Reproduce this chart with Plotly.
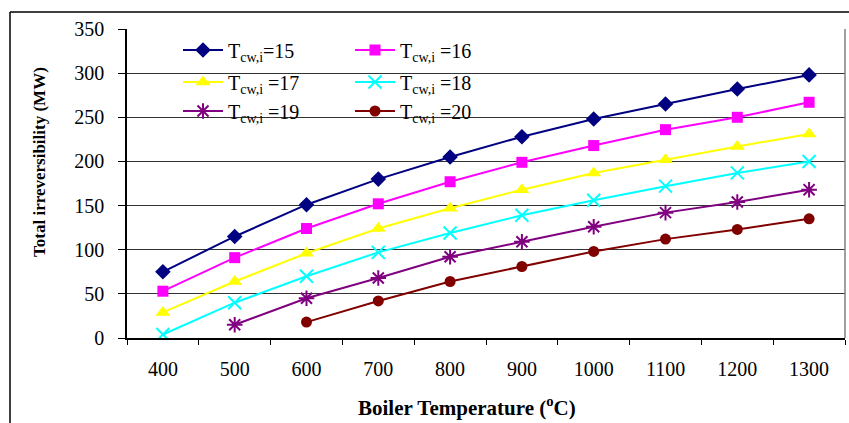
import plotly.graph_objects as go

temps = ["400", "500", "600", "700", "800", "900", "1000", "1100", "1200", "1300"]
s15 = [75, 115, 151, 180, 205, 228, 248, 265, 282, 298]
s16 = [53, 91, 124, 152, 177, 199, 218, 236, 250, 267]
s17 = [29, 64, 96, 124, 147, 168, 187, 202, 217, 231]
s18 = [4, 40, 70, 97, 119, 139, 156, 172, 187, 200]
s19 = [None, 15, 45, 68, 92, 109, 126, 142, 154, 168]
s20 = [None, None, 18, 42, 64, 81, 98, 112, 123, 135]
names = ["T<sub>cw,i</sub>=15", "T<sub>cw,i</sub> =16", "T<sub>cw,i</sub> =17",
         "T<sub>cw,i</sub> =18", "T<sub>cw,i</sub> =19", "T<sub>cw,i</sub> =20"]
yticks = [0, 50, 100, 150, 200, 250, 300, 350]

series = [s15, s16, s17, s18, s19, s20]
colors = ["#000080", "#FF00FF", "#FFFF00", "#00FFFF", "#800080", "#800000"]
symbols = ["diamond", "square", "triangle-up", "x-thin-open", "asterisk-open", "circle"]
sizes = [12, 11, 13, 13, 13, 11]
legends = ["legend", "legend", "legend2", "legend2", "legend3", "legend3"]

FONT = "Liberation Serif, Times New Roman, serif"
fig = go.Figure()
for ys, nm, c, sym, sz, lg in zip(series, names, colors, symbols, sizes, legends):
    open_sym = sym.endswith("open")
    fig.add_trace(go.Scatter(
        x=temps, y=ys, name=nm, mode="lines+markers", legend=lg,
        line=dict(color=c, width=2),
        marker=dict(symbol=sym, size=sz, color=c,
                    line=dict(color=c, width=2 if open_sym else 0)),
    ))

W, H = 849, 423
L, R, T, B = 127, 4, 29, 85
pw, ph = W - L - R, H - T - B

def px(xp):
    return (xp - L) / pw

def py(yp):
    return (H - B - yp) / ph

leg_common = dict(orientation="h", bgcolor="rgba(0,0,0,0)", borderwidth=0,
                  entrywidth=117, entrywidthmode="pixels", xanchor="left",
                  yanchor="middle", font=dict(family=FONT, size=20, color="black"),
                  itemwidth=40, tracegroupgap=0)

fig.update_layout(
    width=W, height=H,
    margin=dict(l=L, r=R, t=T, b=B),
    paper_bgcolor="white", plot_bgcolor="white",
    font=dict(family=FONT, size=20, color="black"),
    legend=dict(x=px(178), y=py(50), **leg_common),
    legend2=dict(x=px(178), y=py(82), **leg_common),
    legend3=dict(x=px(178), y=py(111), **leg_common),
    xaxis=dict(type="category", range=[-0.5, 9.5], tickson="boundaries",
               ticks="outside", ticklen=5, tickcolor="black", showline=True,
               linecolor="black", linewidth=1.5, showgrid=False,
               ticklabelstandoff=12, tickfont=dict(family=FONT, size=20)),
    yaxis=dict(range=[0, 350], tickvals=yticks, ticks="outside", ticklen=7,
               tickcolor="black", showline=True, linecolor="black", linewidth=1.5,
               showgrid=True, gridcolor="#333333", gridwidth=1, zeroline=False,
               ticklabelstandoff=10, tickfont=dict(family=FONT, size=20)),
    showlegend=True,
    shapes=[
        dict(type="line", xref="paper", yref="paper", x0=1, x1=1, y0=0, y1=1,
             line=dict(color="#808080", width=1.5)),
        dict(type="line", xref="paper", yref="paper", x0=px(10), x1=px(10),
             y0=py(430), y1=py(12), line=dict(color="black", width=1.5)),
        dict(type="line", xref="paper", yref="paper", x0=px(10), x1=px(860),
             y0=py(12), y1=py(12), line=dict(color="black", width=1.5)),
    ],
    annotations=[
        dict(text="<b>Total irreversibility (MW)</b>", xref="paper", yref="paper",
             x=px(39), y=py(162), textangle=-90, showarrow=False,
             font=dict(family=FONT, size=17, color="black"),
             xanchor="center", yanchor="middle"),
        dict(text="<b>Boiler Temperature (<sup>o</sup>C)</b>", xref="paper", yref="paper",
             x=px(467), y=py(406), showarrow=False,
             font=dict(family=FONT, size=21, color="black"),
             xanchor="center", yanchor="middle"),
    ],
)

fig.write_html("out.html", config={"displayModeBar": False},
               post_script="document.body.style.margin='0';document.body.style.overflow='hidden';")
